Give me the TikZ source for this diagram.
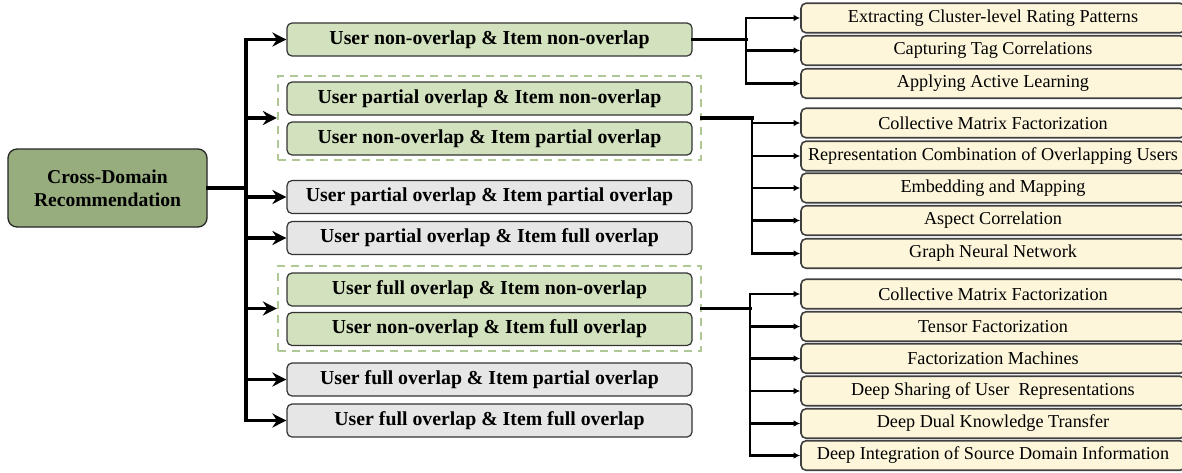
\documentclass[tikz,border=0pt]{standalone}
\usepackage{fontspec}
\setmainfont{Liberation Serif}
\usetikzlibrary{arrows.meta}
\definecolor{rootfill}{HTML}{97AD7D}
\definecolor{greenfill}{HTML}{D3E2BE}
\definecolor{grayfill}{HTML}{E6E6E6}
\definecolor{leaffill}{HTML}{FDF6DB}
\definecolor{dashgreen}{HTML}{B0C796}
\tikzset{
  rootbox/.style={draw=black!85, line width=1.3pt, fill=rootfill, rounded corners=9pt,
    minimum width=199pt, minimum height=78pt, align=center, inner sep=0pt,
    font=\fontsize{19.6}{23}\selectfont\bfseries},
  midbox/.style={draw=black!80, line width=1.2pt, rounded corners=5pt,
    minimum width=405pt, minimum height=33pt, inner sep=0pt,
    font=\fontsize{19.8}{23}\selectfont\bfseries},
  greenbox/.style={midbox, fill=greenfill},
  graybox/.style={midbox, fill=grayfill},
  leafbox/.style={draw=black!75, line width=1.6pt, fill=leaffill, rounded corners=5pt,
    minimum width=384pt, minimum height=29.5pt, inner sep=0pt,
    font=\fontsize{18.2}{21}\selectfont},
  dashbox/.style={draw=dashgreen, line width=2.2pt, dash pattern=on 8pt off 6pt,
    minimum width=423pt, inner sep=0pt},
  trunk/.style={line width=3.3pt, line cap=rect},
  bigarr/.style={line width=3.3pt, -{Stealth[length=14pt, width=14pt, inset=4.5pt]}},
  smallarr/.style={line width=2.2pt, -{Latex[length=6.5pt, width=6.5pt]}},
  rtrunk/.style={line width=2.8pt, line cap=rect},
}
\begin{document}
\begin{tikzpicture}[x=1pt, y=-1pt]
\clip (0,0) rectangle (1182,472);
\fill[white] (0,0) rectangle (1182,472);

% root
\node[rootbox] (root) at (107.5,188) {Cross-Domain\\Recommendation};

% middle column
\node[greenbox] (b1) at (489.5,39.5) {User non-overlap \& Item non-overlap};
\node[dashbox, minimum height=84pt] (g1) at (489.5,118) {};
\node[greenbox] (b2) at (489.5,98.5) {User partial overlap \& Item non-overlap};
\node[greenbox] (b3) at (489.5,138.5) {User non-overlap \& Item partial overlap};
\node[graybox] (b4) at (489.5,197) {User partial overlap \& Item partial overlap};
\node[graybox] (b5) at (489.5,238) {User partial overlap \& Item full overlap};
\node[dashbox, minimum height=85pt] (g2) at (489.5,308.5) {};
\node[greenbox] (b6) at (489.5,289.5) {User full overlap \& Item non-overlap};
\node[greenbox] (b7) at (489.5,329) {User non-overlap \& Item full overlap};
\node[graybox] (b8) at (489.5,379.5) {User full overlap \& Item partial overlap};
\node[graybox] (b9) at (489.5,420.5) {User full overlap \& Item full overlap};

% right column
\node[leafbox] (r1) at (993,18) {Extracting Cluster-level Rating Patterns};
\node[leafbox] (r2) at (993,50.5) {Capturing Tag Correlations};
\node[leafbox] (r3) at (993,83.5) {Applying Active Learning};
\node[leafbox] (r4) at (993,123) {Collective Matrix Factorization};
\node[leafbox] (r5) at (993,156) {Representation Combination of Overlapping Users};
\node[leafbox] (r6) at (993,188) {Embedding and Mapping};
\node[leafbox] (r7) at (993,220.5) {Aspect Correlation};
\node[leafbox] (r8) at (993,253.5) {Graph Neural Network};
\node[leafbox] (r9) at (993,294) {Collective Matrix Factorization};
\node[leafbox] (r10) at (993,326.5) {Tensor Factorization};
\node[leafbox] (r11) at (993,358.5) {Factorization Machines};
\node[leafbox] (r12) at (993,391) {Deep Sharing of User\ \ Representations};
\node[leafbox] (r13) at (993,423.5) {Deep Dual Knowledge Transfer};
\node[leafbox] (r14) at (993,455.5) {Deep Integration of Source Domain Information};

% main trunk
\coordinate (t) at (246,188);
\draw[trunk] (root.east) -- (t);
\draw[trunk] (t |- b1.west) -- (t |- b9.west);
\foreach \n in {b1,g1,b4,b5,g2,b8,b9}
  \draw[bigarr] (t |- \n.west) -- (\n.west);

% group 1
\coordinate (v1) at (746,39.5);
\draw[trunk] (b1.east) -- (v1);
\draw[rtrunk] (v1 |- r1.west) -- (v1 |- r3.west);
\foreach \n in {r1,r2,r3}
  \draw[smallarr] (v1 |- \n.west) -- (\n.west);

% group 2
\coordinate (v2) at (752,118);
\draw[trunk] (g1.east) -- (v2);
\draw[rtrunk] (v2) -- (v2 |- r8.west);
\foreach \n in {r4,r5,r6,r7,r8}
  \draw[smallarr] (v2 |- \n.west) -- (\n.west);

% group 3
\coordinate (v3) at (750,308.5);
\draw[trunk] (g2.east) -- (v3);
\draw[rtrunk] (v3 |- r9.west) -- (v3 |- r14.west);
\foreach \n in {r9,r10,r11,r12,r13,r14}
  \draw[smallarr] (v3 |- \n.west) -- (\n.west);
\end{tikzpicture}
\end{document}
